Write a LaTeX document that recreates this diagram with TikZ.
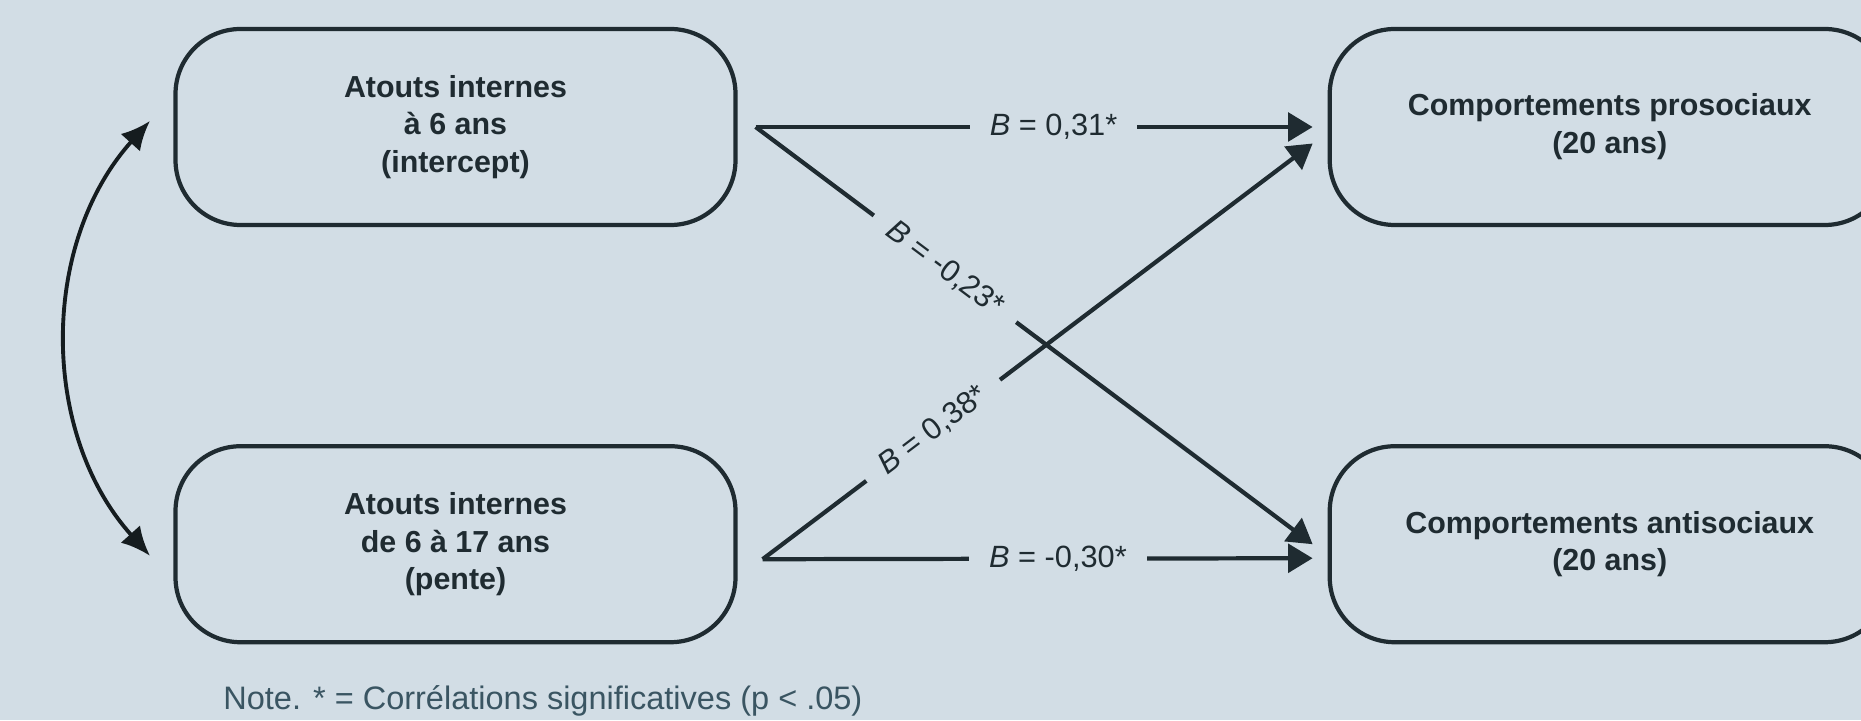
\documentclass[tikz,border=0pt]{standalone}
\usepackage{fontspec}
\setmainfont{Liberation Sans}
\usepackage{xcolor}
\usepackage{tikz}
\usetikzlibrary{arrows.meta,positioning}
\definecolor{bgcol}{HTML}{D2DDE5}
\definecolor{ink}{HTML}{1F2B31}
\definecolor{darkink}{HTML}{151C1F}
\definecolor{notecol}{HTML}{3A5562}

\begin{document}
\begin{tikzpicture}[node distance=4.34cm and 11.8cm,>={Triangle[length=0.49cm,width=0.57cm]}]
  \tikzstyle{block}=[draw=ink,line width=2.4pt,rounded corners=1.3cm,align=center,minimum width=11.2cm,minimum height=3.92cm,text=ink,font=\fontsize{17.3}{21.5}\selectfont\bfseries]
  \tikzstyle{link}=[draw=ink,line width=2.4pt]
  \tikzstyle{coef}=[fill=bgcol,text=ink,inner xsep=0.4cm,inner ysep=2pt,font=\fontsize{17.5}{21}\selectfont]
  \useasboundingbox (0,0) rectangle (37.22,14.4);
  \fill[bgcol] (0,0) rectangle (37.22,14.4);
  \clip (0,0) rectangle (37.22,14.4);
  \node[block] (inter) at (9.11,11.86) {Atouts internes\\à 6 ans\\(intercept)};
  \node[block,below=of inter] (pente) {Atouts internes\\de 6 à 17 ans\\(pente)};
  \node[block,right=of inter] (proso) {Comportements prosociaux\\(20 ans)};
  \node[block,right=of pente] (anti) {Comportements antisociaux\\(20 ans)};
  \node[anchor=base west,inner sep=0pt,text=notecol,font=\fontsize{18.5}{22}\selectfont] (note) at (4.46,0.22) {Note. * = Corrélations significatives (p < .05)};
  % chemins
  \draw[link,->] ([xshift=0.36cm]inter.east) -- node[coef,pos=0.535] {\textit{B} = 0,31*} ([xshift=-0.3cm]proso.west);
  \draw[link,->] ([xshift=0.36cm]inter.east) -- node[coef,sloped,pos=0.34] {\textit{B} = -0,23*} ([xshift=-0.3cm]anti.west);
  \draw[link,->] ([xshift=0.5cm,yshift=-0.3cm]pente.east) -- node[coef,sloped,pos=0.31] {\textit{B} = 0,38*} ([xshift=-0.3cm,yshift=-0.33cm]proso.west);
  \draw[link,->] ([xshift=0.5cm,yshift=-0.3cm]pente.east) -- node[coef,pos=0.537] {\textit{B} = -0,30*} ([xshift=-0.3cm,yshift=-0.28cm]anti.west);
  % covariance
  \draw[line width=2.2pt,draw=darkink,{Latex[length=0.58cm,width=0.52cm]}-{Latex[length=0.58cm,width=0.52cm]}] ([xshift=-0.47cm,yshift=0.12cm]inter.west) to[out=228,in=132,looseness=0.97] ([xshift=-0.47cm,yshift=-0.23cm]pente.west);
\end{tikzpicture}
\end{document}
